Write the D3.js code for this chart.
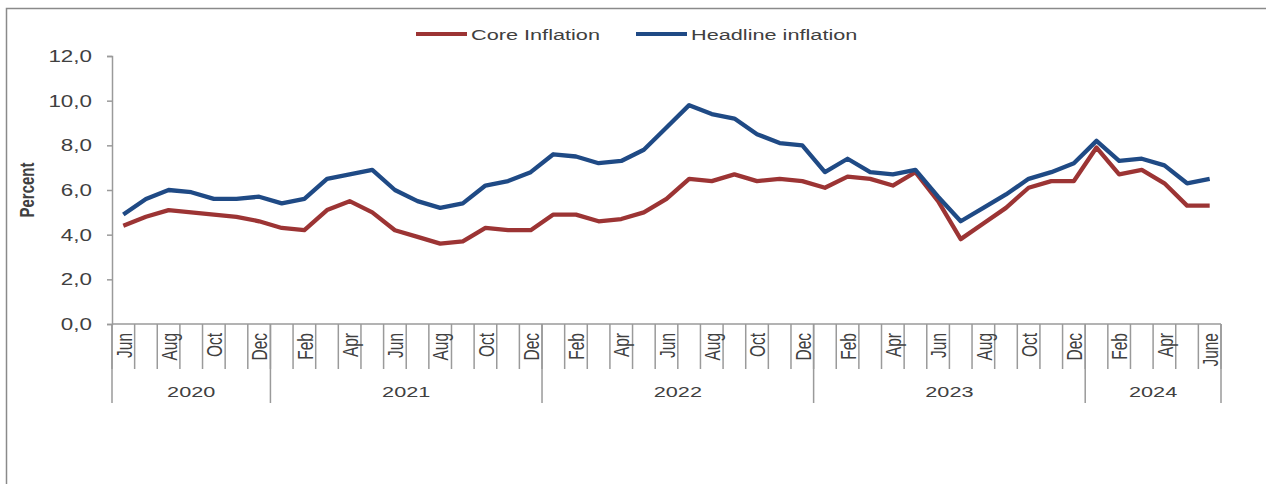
<!DOCTYPE html>
<html>
<head>
<meta charset="utf-8">
<script src="https://cdn.jsdelivr.net/npm/d3@7"></script>
<style>
  html, body { margin: 0; padding: 0; background: #fff; }
  svg { display: block; }
  text { font-family: "Liberation Sans", Arial, sans-serif; fill: #404040; }
</style>
</head>
<body>
<svg id="chart" width="1266" height="484"></svg>
<script>
// ---- data ----
const monthLabels = [
  "Jun","Jul","Aug","Sep","Oct","Nov","Dec",
  "Jan","Feb","Mar","Apr","May","Jun","Jul","Aug","Sep","Oct","Nov","Dec",
  "Jan","Feb","Mar","Apr","May","Jun","Jul","Aug","Sep","Oct","Nov","Dec",
  "Jan","Feb","Mar","Apr","May","Jun","Jul","Aug","Sep","Oct","Nov","Dec",
  "Jan","Feb","Mar","Apr","May","June"
];
const yearLabels = ["2020", "2021", "2022", "2023", "2024"];
const yearCounts = [7, 12, 12, 12, 6];
const coreInflation = [
  4.4, 4.8, 5.1, 5.0, 4.9, 4.8, 4.6,
  4.3, 4.2, 5.1, 5.5, 5.0, 4.2, 3.9, 3.6, 3.7, 4.3, 4.2, 4.2,
  4.9, 4.9, 4.6, 4.7, 5.0, 5.6, 6.5, 6.4, 6.7, 6.4, 6.5, 6.4,
  6.1, 6.6, 6.5, 6.2, 6.8, 5.5, 3.8, 4.5, 5.2, 6.1, 6.4, 6.4,
  7.9, 6.7, 6.9, 6.3, 5.3, 5.3
];
const headlineInflation = [
  4.9, 5.6, 6.0, 5.9, 5.6, 5.6, 5.7,
  5.4, 5.6, 6.5, 6.7, 6.9, 6.0, 5.5, 5.2, 5.4, 6.2, 6.4, 6.8,
  7.6, 7.5, 7.2, 7.3, 7.8, 8.8, 9.8, 9.4, 9.2, 8.5, 8.1, 8.0,
  6.8, 7.4, 6.8, 6.7, 6.9, 5.7, 4.6, 5.2, 5.8, 6.5, 6.8, 7.2,
  8.2, 7.3, 7.4, 7.1, 6.3, 6.5
];
const yTicks = [0, 2, 4, 6, 8, 10, 12];
const seriesNames = ["Core Inflation", "Headline inflation"];

// ---- layout ----
const SX = 1.4; // horizontal text stretch of the original rendering
const plotLeft = 112, plotRight = 1221, plotTop = 56, plotBottom = 324;
const colors = ["#9c3434", "#1f4a85"];
const axisColor = "#9a9a9a";

const svg = d3.select("#chart");

// outer frame (top + left edges)
svg.append("path")
  .attr("d", "M6.5,500 V8.5 H1270")
  .attr("fill", "none").attr("stroke", "#8a8a8a").attr("stroke-width", 1.5);

const idx = d3.range(monthLabels.length);
const x = d3.scaleBand().domain(idx).range([plotLeft, plotRight]).padding(0);
const y = d3.scaleLinear().domain([0, 12]).range([plotBottom, plotTop]);

// y axis
const yAxis = svg.append("g")
  .attr("transform", `translate(${plotLeft},0)`)
  .call(d3.axisLeft(y).tickValues(yTicks).tickSize(5)
    .tickFormat(d => d.toFixed(1).replace(".", ",")));
yAxis.select(".domain").attr("stroke", axisColor).attr("stroke-width", 1.5);
yAxis.selectAll(".tick line").attr("stroke", axisColor).attr("stroke-width", 1.5);
yAxis.selectAll(".tick text")
  .attr("x", null).attr("dy", null)
  .attr("transform", "translate(-20,5.5) scale(" + SX + ",1)")
  .attr("font-size", 16).attr("font-family", null)
  .attr("fill", "#404040");

// y label
svg.append("text")
  .attr("transform", `translate(34,${(plotTop + plotBottom) / 2}) scale(${SX},1) rotate(-90)`)
  .attr("text-anchor", "middle")
  .attr("font-size", 15).attr("font-weight", "bold")
  .attr("fill", "#262626")
  .text("Percent");

// x axis line
svg.append("line")
  .attr("x1", plotLeft).attr("x2", plotRight).attr("y1", plotBottom).attr("y2", plotBottom)
  .attr("stroke", axisColor).attr("stroke-width", 1.5);

// category boundary ticks
const boundaries = idx.map(i => x(i)).concat([plotRight]);
svg.append("g").selectAll("line").data(boundaries).join("line")
  .attr("x1", d => d).attr("x2", d => d)
  .attr("y1", plotBottom).attr("y2", plotBottom + 45)
  .attr("stroke", axisColor).attr("stroke-width", 1.5);

// year separators
const yearStarts = [];
let acc = 0;
yearCounts.forEach(c => { yearStarts.push(acc); acc += c; });
const sepPos = yearStarts.map(s => x(s)).concat([plotRight]);
svg.append("g").selectAll("line").data(sepPos).join("line")
  .attr("x1", d => d).attr("x2", d => d)
  .attr("y1", plotBottom).attr("y2", plotBottom + 79)
  .attr("stroke", axisColor).attr("stroke-width", 1.5);

// month labels (every other)
svg.append("g").selectAll("text")
  .data(idx.filter(i => i % 2 === 0)).join("text")
  .attr("transform", i => `translate(${x(i) + x.bandwidth() / 2},${plotBottom + 9}) scale(${SX},1) rotate(-90)`)
  .attr("text-anchor", "end")
  .attr("dy", "0.38em")
  .attr("font-size", 15.5)
  .text(i => monthLabels[i]);

// year labels
svg.append("g").selectAll("text")
  .data(yearLabels).join("text")
  .attr("transform", (d, k) => {
    const cx = (x(yearStarts[k]) + (k + 1 < yearStarts.length ? x(yearStarts[k + 1]) : plotRight)) / 2;
    return `translate(${cx},${plotBottom + 73}) scale(${SX},1)`;
  })
  .attr("text-anchor", "middle")
  .attr("font-size", 15.5)
  .text(d => d);

// lines
const line = d3.line()
  .x((d, i) => x(i) + x.bandwidth() / 2)
  .y(d => y(d));
[coreInflation, headlineInflation].forEach((s, k) => {
  svg.append("path")
    .datum(s)
    .attr("fill", "none")
    .attr("stroke", colors[k])
    .attr("stroke-width", 4.3)
    .attr("stroke-linejoin", "round")
    .attr("stroke-linecap", "butt")
    .attr("d", line);
});

// legend
const legendX = [416, 636];
const legend = svg.append("g");
seriesNames.forEach((name, k) => {
  legend.append("line")
    .attr("x1", legendX[k]).attr("x2", legendX[k] + 51)
    .attr("y1", 34).attr("y2", 34)
    .attr("stroke", colors[k]).attr("stroke-width", 4);
  legend.append("text")
    .attr("transform", `translate(${legendX[k] + 55},39.5) scale(${SX},1)`)
    .attr("font-size", 15.5)
    .attr("fill", "#404040")
    .text(name);
});
</script>
</body>
</html>
